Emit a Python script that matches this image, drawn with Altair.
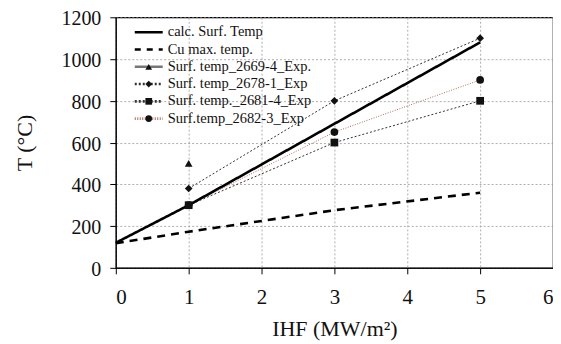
import altair as alt
import pandas as pd

# ---- data ----
calc_x = [0, 1, 3, 5]
calc_y = [120, 300, 690, 1080]

cu_x = [0, 1, 3, 5]
cu_y = [118, 173, 276, 360]

s2669_x = [1]
s2669_y = [500]

s2678_x = [1, 3, 5]
s2678_y = [380, 800, 1100]

s2681_x = [1, 3, 5]
s2681_y = [300, 600, 800]

s2682_x = [1, 3, 5]
s2682_y = [300, 650, 900]

names = [
    "calc. Surf. Temp",
    "Cu max. temp.",
    "Surf. temp_2669-4_Exp.",
    "Surf. temp_2678-1_Exp",
    "Surf. temp._2681-4_Exp",
    "Surf.temp_2682-3_Exp",
]

x_ticks = [0, 1, 2, 3, 4, 5, 6]
y_ticks = [0, 200, 400, 600, 800, 1000, 1200]

FONT = "Liberation Serif, Times New Roman, serif"
W, H = 438, 251

def frame(xs, ys, name):
    return pd.DataFrame({"x": xs, "y": ys, "s": name})

calc = frame(calc_x, calc_y, names[0])
cu = frame(cu_x, cu_y, names[1])
e2669 = frame(s2669_x, s2669_y, names[2])
e2678 = frame(s2678_x, s2678_y, names[3])
e2681 = frame(s2681_x, s2681_y, names[4])
e2682 = frame(s2682_x, s2682_y, names[5])

xs = alt.Scale(domain=[0, 6], nice=False)
ys = alt.Scale(domain=[0, 1200], nice=False)

X = alt.X("x:Q", scale=xs, axis=alt.Axis(values=x_ticks, title="IHF (MW/m²)", format="d"))
Y = alt.Y("y:Q", scale=ys, axis=alt.Axis(values=y_ticks, title="T (°C)", format="d"))

def line(df, color, width, dash):
    return alt.Chart(df).mark_line(color=color, strokeWidth=width, strokeDash=dash).encode(x=X, y=Y)

l_calc = line(calc, "#000000", 2.6, [1, 0])
l_cu = line(cu, "#000000", 2.6, [8, 6])
l_2678 = line(e2678, "#333333", 1, [2, 2])
l_2681 = line(e2681, "#333333", 1, [2, 2])
l_2682 = line(e2682, "#b06a5a", 1, [1, 1.5])

shape_domain = names[2:]
shape_range = ["triangle-up", "diamond", "square", "circle"]
pts = pd.concat([e2669, e2678, e2681, e2682])
points = alt.Chart(pts).mark_point(filled=True, color="#111111", opacity=1, size=60).encode(
    x=X, y=Y,
    shape=alt.Shape("s:N", scale=alt.Scale(domain=shape_domain, range=shape_range), legend=None),
)

# ---- custom legend ----
leg = pd.DataFrame({"name": names, "row": list(range(len(names)))})
leg_base = alt.Chart(leg).transform_calculate(
    ly="15 + 17.3 * datum.row", lx1="19", lx2="47", lm="33", lt="52"
)
dash_scale = alt.Scale(domain=names, range=[[1, 0], [6, 6], [1, 0], [2, 2], [2, 2], [1, 1.5]])
col_scale = alt.Scale(domain=names, range=["#000000", "#000000", "#777777", "#333333", "#333333", "#b06a5a"])
w_scale = alt.Scale(domain=names, range=[2.6, 2.6, 1.2, 1, 1, 1])
leg_lines = leg_base.mark_rule().encode(
    x=alt.X("lx1:Q", scale=None), x2="lx2:Q", y=alt.Y("ly:Q", scale=None),
    strokeDash=alt.StrokeDash("name:N", scale=dash_scale, legend=None),
    color=alt.Color("name:N", scale=col_scale, legend=None),
    strokeWidth=alt.StrokeWidth("name:N", scale=w_scale, legend=None),
)
leg_pts = leg_base.transform_filter("datum.row >= 2").mark_point(
    filled=True, color="#111111", opacity=1, size=45
).encode(
    x=alt.X("lm:Q", scale=None), y=alt.Y("ly:Q", scale=None),
    shape=alt.Shape("name:N", scale=alt.Scale(domain=shape_domain, range=shape_range), legend=None),
)
leg_text = leg_base.mark_text(align="left", baseline="middle", font=FONT, fontSize=14.5, color="#111111").encode(
    x=alt.X("lt:Q", scale=None), y=alt.Y("ly:Q", scale=None), text="name:N"
)

chart = alt.layer(
    l_2678, l_2681, l_2682, l_calc, l_cu, points, leg_lines, leg_pts, leg_text
).properties(
    width=W, height=H,
    autosize=alt.AutoSizeParams(type="none"),
    padding={"left": 108, "top": 9, "right": 0, "bottom": 76},
).configure_view(
    stroke="#000000", strokeWidth=1.2
).configure_axis(
    labelFont=FONT, titleFont=FONT, labelFontSize=21, titleFontSize=22,
    labelColor="#111111", titleColor="#111111", titleFontWeight="normal",
    gridColor="#999999", gridDash=[2, 2], gridWidth=0.8,
    domainColor="#000000", tickColor="#000000", tickSize=6,
).configure_axisX(
    labelPadding=13, titlePadding=11,
).configure_axisY(
    labelPadding=9, titlePadding=24, labelFontSize=20, labelOffset=1.5,
)

chart.save("out.html", embed_options={"renderer": "svg", "actions": False})
